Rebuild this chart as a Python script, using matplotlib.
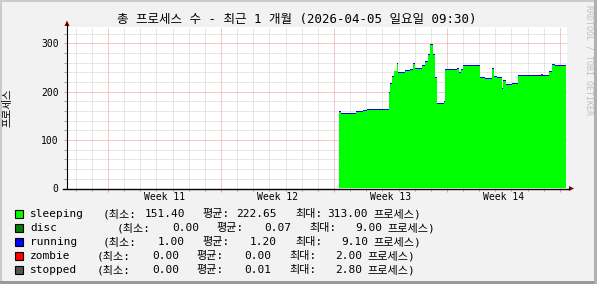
import matplotlib
matplotlib.use('Agg')
import matplotlib.pyplot as plt
from matplotlib.patches import Rectangle, Polygon
from matplotlib.lines import Line2D
import numpy as np

W, H = 597, 284
MONO = ['DejaVu Sans Mono', 'Noto Sans CJK KR']

# ---------------- data (x = days since start of week 11) ----------------
edges = [14.31, 14.44, 15.37, 15.82, 16.03, 17.41, 17.47, 17.58, 17.74, 17.89,
         17.99, 18.40, 18.71, 18.92, 19.02, 19.44, 19.64, 19.85, 19.95, 20.12,
         20.26, 20.37, 20.82, 20.88, 21.62, 21.76, 21.87, 22.00, 22.74, 23.05,
         23.36, 23.77, 23.93, 24.10, 24.39, 24.46, 24.66, 25.01, 25.42, 26.83,
         26.95, 27.32, 27.48, 27.69, 28.38]
sleeping = [158, 155, 159, 161, 162, 198, 217, 231, 242, 257,
            238, 243, 246, 258, 248, 254, 261, 276, 297, 276,
            229, 175, 179, 245, 247, 238, 245, 253, 254, 228,
            227, 248, 230, 229, 205, 223, 214, 216, 233, 233,
            233, 240, 256, 254]
disc = [0, 0, 0, 0, 0, 0, 0, 0, 0, 0,
        0, 0, 0, 0, 0, 0, 0, 0, 0, 0,
        0, 0, 0, 0, 0, 0, 0, 0, 0, 0,
        0, 0, 0, 0, 0, 0, 0, 0, 0, 0,
        0, 0, 0, 0]
running = [2, 2, 2, 2, 2, 2, 2, 2, 2, 2,
           2, 2, 2, 2, 2, 2, 2, 2, 2, 2,
           2, 2, 2, 2, 2, 2, 2, 2, 2, 2,
           2, 2, 2, 2, 2, 2, 2, 2, 2, 2,
           2, 2, 2, 2]
zombie = [0, 0, 0, 0, 0, 0, 0, 0, 0, 0,
          0, 0, 0, 0, 0, 0, 0, 0, 0, 0,
          0, 0, 0, 0, 0, 0, 0, 0, 0, 0,
          0, 0, 0, 0, 0, 0, 0, 0, 0, 2,
          0, 0, 0, 0]
stopped = [0, 0, 0, 0, 0, 0, 0, 0, 0, 0,
           0, 0, 0, 0, 0, 0, 0, 0, 0, 0,
           0, 0, 0, 0, 0, 0, 0, 0, 0, 0,
           0, 0, 0, 0, 0, 0, 0, 0, 0, 0,
           0, 0, 0, 0]

names = ['sleeping', 'disc', 'running', 'zombie', 'stopped']
colors = ['#00FF00', '#008000', '#0000FF', '#FF0000', '#555555']
stat_min = ['151.40', '0.00', '1.00', '0.00', '0.00']
stat_avg = ['222.65', '0.07', '1.20', '0.00', '0.01']
stat_max = ['313.00', '9.00', '9.10', '2.00', '2.80']
week_labels = ['Week 11', 'Week 12', 'Week 13', 'Week 14']
week_mid = [3.5, 10.5, 17.5, 24.5]
y_ticks = [0, 100, 200, 300]
title = '총 프로세스 수 - 최근 1 개월 (2026-04-05 일요일 09:30)'


def fp(x, y):  # pixel -> figure fraction
    return x / W, 1 - y / H


fig = plt.figure(figsize=(W / 100, H / 100), dpi=100, facecolor='#F2F2F2')

# frame shading like rrdtool
for (x0, y0, w, h, c) in [(0, 0, W, 2, '#CBCBCB'), (0, 0, 2, H, '#CBCBCB'),
                          (0, H - 3, W, 3, '#999999'), (W - 3, 0, 3, H, '#B0B0B0')]:
    fig.patches.append(Rectangle(fp(x0, y0 + h), w / W, h / H, transform=fig.transFigure,
                                 color=c, lw=0))

left, right, top, bottom = 67, 567, 27, 188.5
ax = fig.add_axes([left / W, 1 - bottom / H, (right - left) / W, (bottom - top) / H])
ax.set_facecolor('white')
ax.set_xlim(-2.54, 28.44)
ax.set_ylim(0, 334)
for s in ax.spines.values():
    s.set_visible(False)

# grid
dots = (0, (1, 1))
for d in range(-2, 29):
    if d % 7:
        ax.axvline(d, color='#D0D0D0', lw=0.72, ls=dots, zorder=0)
for v in range(20, 334, 20):
    if v % 100:
        ax.axhline(v, color='#D0D0D0', lw=0.72, ls=dots, zorder=0)
for d in range(0, 29, 7):
    ax.axvline(d, color='#F29494', lw=0.72, ls=dots, zorder=0.5)
for v in y_ticks[1:]:
    ax.axhline(v, color='#F29494', lw=0.72, ls=dots, zorder=0.5)

# stacked areas
x = np.array(edges)
base = np.zeros(len(sleeping))
for vals, c in zip([sleeping, disc, running, zombie, stopped], colors):
    topv = base + np.array(vals)
    ax.fill_between(x, np.append(base, base[-1]), np.append(topv, topv[-1]),
                    step='post', color=c, lw=0, zorder=2)
    base = topv

# ticks
ax.set_yticks(y_ticks)
ax.set_yticks(range(20, 334, 20), minor=True)
ax.set_xticks(range(0, 29, 7))
ax.set_xticks(range(-2, 29), minor=True)
ax.set_xticklabels([])
ax.tick_params(axis='y', which='major', length=2.5, width=0.72, color='#F29494',
               pad=3.6, labelsize=7)
ax.tick_params(axis='y', which='minor', length=2.2, width=0.72, color='#A0A0A0')
ax.tick_params(axis='x', which='major', length=2.2, width=0.72, color='#F29494')
ax.tick_params(axis='x', which='minor', length=1.5, width=0.72, color='#A0A0A0')
for lab in ax.get_yticklabels():
    lab.set_family(MONO)

for m, lab in zip(week_mid, week_labels):
    ax.text(m, -8.5 / 0.4834, lab, ha='center', va='center', fontsize=7, family=MONO)

# axis lines and arrows
fig.lines.append(Line2D([left / W, left / W], [1 - bottom / H, 1 - 24 / H],
                        transform=fig.transFigure, color='black', lw=0.8))
fig.lines.append(Line2D([63 / W, 569 / W], [1 - bottom / H, 1 - bottom / H],
                        transform=fig.transFigure, color='black', lw=1.0))
fig.patches.append(Polygon([fp(64.5, 26), fp(69.5, 26), fp(67, 20.5)], closed=True,
                           transform=fig.transFigure, color='#7F0000', lw=0))
fig.patches.append(Polygon([fp(569, 186), fp(569, 191), fp(574, 188.5)], closed=True,
                           transform=fig.transFigure, color='#7F0000', lw=0))

# texts
fig.text(*fp(297, 19), title, ha='center', va='center', fontsize=9, family=MONO)
fig.text(*fp(8, 108), '프로세스', rotation=90, ha='center', va='center', fontsize=7.5,
         family=MONO)
fig.text(*fp(589, 5), 'RRDTOOL / TOBI OETIKER', rotation=270, ha='center', va='top',
         fontsize=6, color='#C0C0C0', family=MONO)

# legend
offsets = [0, 14, 0, -6, -6]
for i in range(5):
    y = 214 + 14 * i
    o = offsets[i]
    fig.patches.append(Rectangle(fp(15, y + 4), 8 / W, 8 / H, transform=fig.transFigure,
                                 facecolor=colors[i], edgecolor='black', lw=0.8))
    fig.text(*fp(30, y), names[i], ha='left', va='center', fontsize=8, family=MONO)
    fig.text(*fp(103 + o, y), '(최소:', ha='left', va='center', fontsize=8, family=MONO)
    fig.text(*fp(185 + o, y), stat_min[i], ha='right', va='center', fontsize=8, family=MONO)
    fig.text(*fp(202 + o, y), '평균:', ha='left', va='center', fontsize=8, family=MONO)
    fig.text(*fp(277 + o, y), stat_avg[i], ha='right', va='center', fontsize=8, family=MONO)
    fig.text(*fp(295 + o, y), '최대:', ha='left', va='center', fontsize=8, family=MONO)
    fig.text(*fp(368 + o, y), stat_max[i], ha='right', va='center', fontsize=8, family=MONO)
    fig.text(*fp(373 + o, y), '프로세스)', ha='left', va='center', fontsize=8, family=MONO)

fig.savefig('out.png', dpi=100, facecolor=fig.get_facecolor())
